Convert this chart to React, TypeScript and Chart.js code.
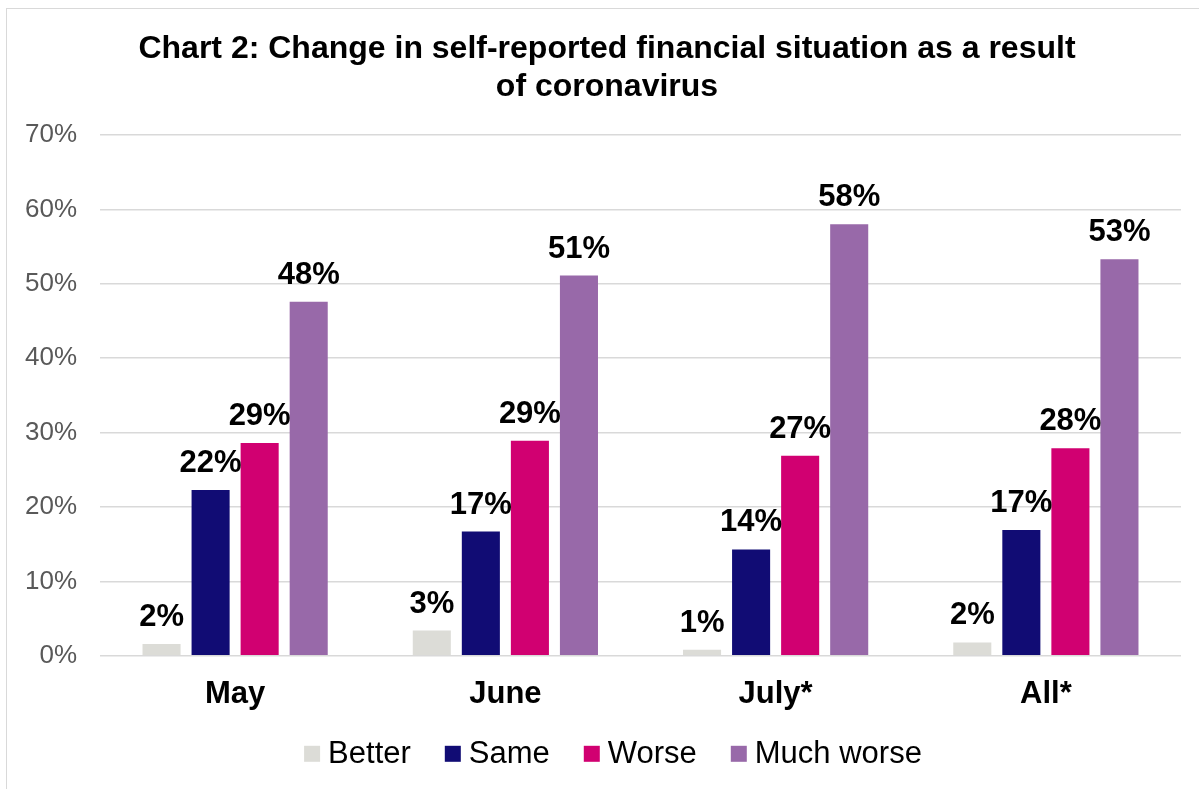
import React, { useEffect, useRef } from "react";
import { Chart, registerables } from "chart.js";

Chart.register(...registerables);

// ---- data ----
const categories = ["May", "June", "July*", "All*"];
const seriesNames = ["Better", "Same", "Worse", "Much worse"];
const better = [1.6, 3.4, 0.8, 1.8];
const same = [22.3, 16.7, 14.3, 16.9];
const worse = [28.6, 28.9, 26.9, 27.9];
const muchWorse = [47.6, 51.1, 58.0, 53.3];
const seriesColors = ["#dcdcd7", "#110c74", "#d10071", "#9869a9"];
const titleLines = [
  "Chart 2: Change in self-reported financial situation as a result",
  "of coronavirus",
];
const yMin = 0;
const yMax = 70;
const yStep = 10;

const FAMILY = "'Liberation Sans', Arial, Helvetica, sans-serif";

const valueLabels = {
  id: "valueLabels",
  afterDatasetsDraw(chart: any) {
    const ctx = chart.ctx;
    ctx.save();
    ctx.font = `bold 31px ${FAMILY}`;
    ctx.fillStyle = "#000000";
    ctx.textAlign = "center";
    ctx.textBaseline = "alphabetic";
    chart.data.datasets.forEach((ds: any, di: number) => {
      const meta = chart.getDatasetMeta(di);
      meta.data.forEach((el: any, i: number) => {
        const v = ds.data[i];
        ctx.fillText(Math.round(v) + "%", el.x, el.y - 18);
      });
    });
    ctx.restore();
  },
};

const customLegend = {
  id: "customLegend",
  afterDraw(chart: any) {
    const ctx = chart.ctx;
    ctx.save();
    ctx.font = `31px ${FAMILY}`;
    const box = 16;
    const gap = 8;
    const itemGap = 34;
    const items = chart.data.datasets.map((ds: any) => ({
      text: ds.label,
      color: ds.backgroundColor,
      w: ctx.measureText(ds.label).width,
    }));
    const total =
      items.reduce((a: number, it: any) => a + box + gap + it.w, 0) +
      itemGap * (items.length - 1);
    let x = chart.width / 2 + 6 - total / 2;
    const y = chart.chartArea.bottom + 98;
    ctx.textBaseline = "middle";
    ctx.textAlign = "left";
    items.forEach((it: any) => {
      ctx.fillStyle = it.color;
      ctx.fillRect(x, y - box / 2, box, box);
      ctx.fillStyle = "#000000";
      ctx.fillText(it.text, x + box + gap, y + 1);
      x += box + gap + it.w + itemGap;
    });
    ctx.restore();
  },
};

export default function App() {
  const canvasRef = useRef<HTMLCanvasElement | null>(null);

  useEffect(() => {
    if (!canvasRef.current) return;
    const seriesValues = [better, same, worse, muchWorse];
    const chart = new Chart(canvasRef.current, {
      type: "bar",
      data: {
        labels: categories,
        datasets: seriesNames.map((name, i) => ({
          label: name,
          data: seriesValues[i],
          backgroundColor: seriesColors[i],
          borderWidth: 0,
          categoryPercentage: 0.726,
          barPercentage: 0.776,
          yAxisID: "y",
        })),
      },
      options: {
        animation: false,
        responsive: false,
        maintainAspectRatio: false,
        devicePixelRatio: 1,
        layout: { padding: { left: 0, right: 0, top: 0, bottom: 92 } },
        plugins: {
          legend: { display: false },
          tooltip: { enabled: false },
          title: {
            display: true,
            text: titleLines,
            color: "#000000",
            font: { family: FAMILY, size: 32, weight: "bold", lineHeight: 1.2 },
            padding: { top: 20.5, bottom: 28.7 },
          },
        },
        scales: {
          x: {
            grid: { display: false },
            border: { display: false },
            ticks: {
              color: "#000000",
              font: { family: FAMILY, size: 31, weight: "bold" },
              padding: 12,
            },
          },
          y: {
            min: yMin,
            max: yMax,
            ticks: {
              stepSize: yStep,
              callback: (v: any) => v + "%",
              color: "#595959",
              font: { family: FAMILY, size: 26 },
              padding: 23,
            },
            grid: { color: "#d9d9d9", lineWidth: 1.5, drawTicks: false },
            border: { display: false },
            afterFit: (s: any) => {
              s.width = 93;
            },
          },
          yRight: {
            position: "right",
            display: true,
            min: yMin,
            max: yMax,
            grid: { display: false, drawTicks: false },
            ticks: { display: false },
            border: { display: false },
            afterFit: (s: any) => {
              s.width = 26;
            },
          },
        },
      } as any,
      plugins: [valueLabels, customLegend],
    });
    return () => chart.destroy();
  }, []);

  return (
    <div
      style={{
        position: "fixed",
        left: 0,
        top: 0,
        width: 1199,
        height: 789,
        overflow: "hidden",
        background: "#ffffff",
      }}
    >
      <div
        style={{
          position: "absolute",
          left: 6,
          top: 8,
          width: 1202,
          height: 810,
          border: "1px solid #d9d9d9",
          boxSizing: "border-box",
          background: "#ffffff",
        }}
      >
        <canvas
          ref={canvasRef}
          width={1200}
          height={808}
          style={{ display: "block", width: 1200, height: 808 }}
        />
      </div>
    </div>
  );
}
